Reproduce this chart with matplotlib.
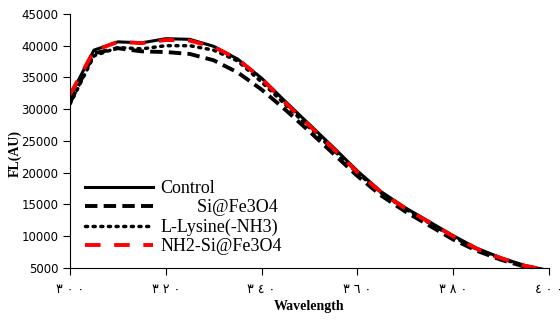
import matplotlib.pyplot as plt

wavelength = [300, 305, 310, 315, 320, 325, 330, 335, 340, 345, 350,
              355, 360, 365, 370, 375, 380, 385, 390, 395, 400]
control = [32000, 39300, 40600, 40450, 41100, 41000, 39900, 37900, 34900, 31200, 27600,
           24000, 20300, 17000, 14500, 12300, 10100, 8100, 6600, 5400, 4600]
si_fe3o4 = [31000, 38800, 39600, 39100, 39000, 38700, 37700, 35800, 33100, 29900, 26500,
            23000, 19500, 16400, 13900, 11700, 9500, 7700, 6300, 5200, 4500]
lysine = [30800, 38400, 39700, 39500, 40000, 40000, 39300, 37600, 34300, 30700, 27100,
          23600, 20000, 16800, 14300, 12100, 9900, 7950, 6500, 5300, 4550]
nh2_si = [32300, 39200, 40600, 40400, 40900, 40800, 39800, 37900, 34800, 31000, 27400,
          23800, 20100, 16900, 14400, 12200, 10000, 8000, 6550, 5350, 4600]

xtick_vals = [300, 320, 340, 360, 380, 400]
xtick_labels = ['٣ ٠ ٠', '٣ ٢ ٠', '٣ ٤ ٠', '٣ ٦ ٠', '٣ ٨ ٠', '٤ ٠ ٠']

fig = plt.figure(figsize=(5.6, 3.2), dpi=100)
ax = fig.add_axes([0.125, 0.1625, 0.855, 0.794])

ax.plot(wavelength, control, color='black', lw=2.2, label='Control')
ax.plot(wavelength, si_fe3o4, color='black', lw=2.8, dashes=(3.2, 1.6), label='        Si@Fe3O4')
ax.plot(wavelength, lysine, color='black', lw=2.5, dashes=(0.6, 1.6), dash_capstyle='round',
        label='L-Lysine(-NH3)')
ax.plot(wavelength, nh2_si, color='red', lw=2.8, dashes=(4, 3.5), label='NH2-Si@Fe3O4')

ax.set_xlim(300, 400)
ax.set_ylim(5000, 45000)
ax.set_yticks(range(5000, 45001, 5000))
ax.set_xticks(xtick_vals)
ax.set_xticklabels(xtick_labels, family=['DejaVu Sans'], fontsize=9)
ax.tick_params(axis='y', labelsize=8.5, length=5, width=0.8)
ax.tick_params(axis='x', length=5, width=0.8, pad=6)
ax.spines['top'].set_visible(False)
ax.spines['right'].set_visible(False)

ax.set_xlabel('Wavelength', family='Liberation Serif', fontweight='bold', fontsize=10, labelpad=3)
ax.set_ylabel('FL(AU)', family='Liberation Serif', fontweight='bold', fontsize=10)
ax.yaxis.set_label_coords(-0.100, 0.449)

leg = ax.legend(loc='lower left', bbox_to_anchor=(0.031, 0.05), frameon=False,
                prop={'family': 'Liberation Serif', 'size': 13},
                handlelength=3.8, handletextpad=0.4, labelspacing=0.13,
                borderaxespad=0, borderpad=0)

fig.savefig('out.png', dpi=100)
